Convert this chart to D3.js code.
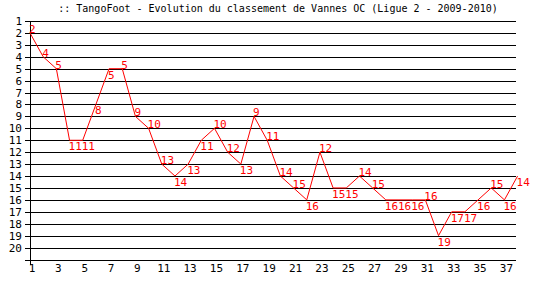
<!DOCTYPE html>
<html><head><meta charset="utf-8">
<script src="https://cdn.jsdelivr.net/npm/d3@7"></script>
<style>body{margin:0;background:#fff}svg{display:block}</style>
</head><body>
<svg id="c" width="540" height="300"></svg>
<script>
const title = ":: TangoFoot - Evolution du classement de Vannes OC (Ligue 2 - 2009-2010)";
const rounds = d3.range(1, 39);
const ranks = [2,4,5,11,11,8,5,5,9,10,13,14,13,11,10,12,13,9,11,14,15,16,12,15,15,14,15,16,16,16,16,19,17,17,16,15,16,14];
const yTicks = d3.range(1, 21);
const xTicks = d3.range(1, 38, 2);

const svg = d3.select("#c");
const font = "'DejaVu Sans Mono', monospace";
const x = d3.scaleLinear().domain([1, 38]).range([30, 517.6]);
const y = d3.scaleLinear().domain([1, 21]).range([21, 259.5]);
const left = 25, right = 516;

svg.append("text").attr("x", 278).attr("y", 12).attr("text-anchor", "middle")
  .attr("font-family", font).attr("font-size", 10).attr("fill", "#000").text(title);

const g = svg.append("g").attr("shape-rendering", "crispEdges");
g.selectAll("line.grid").data(yTicks.concat([21])).join("line")
  .attr("x1", left).attr("x2", right)
  .attr("y1", d => Math.round(y(d)) + 0.5).attr("y2", d => Math.round(y(d)) + 0.5)
  .attr("stroke", "#000").attr("stroke-width", 1);
g.append("line").attr("x1", 30.5).attr("x2", 30.5).attr("y1", Math.round(y(1))).attr("y2", 265)
  .attr("stroke", "#000");

svg.selectAll("text.yt").data(yTicks).join("text")
  .attr("x", 22).attr("y", d => y(d) + 4).attr("text-anchor", "end")
  .attr("font-family", font).attr("font-size", 11).attr("fill", "#000").text(d => d);
svg.selectAll("text.xt").data(xTicks).join("text")
  .attr("x", d => x(d) + 2).attr("y", 272).attr("text-anchor", "middle")
  .attr("font-family", font).attr("font-size", 11).attr("fill", "#000").text(d => d);

const pts = rounds.map((r, i) => ({r, v: ranks[i], next: ranks[i + 1]}));
svg.append("path").datum(pts)
  .attr("d", d3.line().x(d => x(d.r)).y(d => y(d.v)))
  .attr("fill", "none").attr("stroke", "#ff0000").attr("stroke-width", 1);

svg.selectAll("text.lbl").data(pts).join("text")
  .attr("x", d => x(d.r) - 1)
  .attr("y", d => (d.next !== undefined && d.next > d.v) ? y(d.v) : y(d.v) + 10)
  .attr("font-family", font).attr("font-size", 11).attr("fill", "#ff0000")
  .text(d => d.v);
</script>
</body></html>
